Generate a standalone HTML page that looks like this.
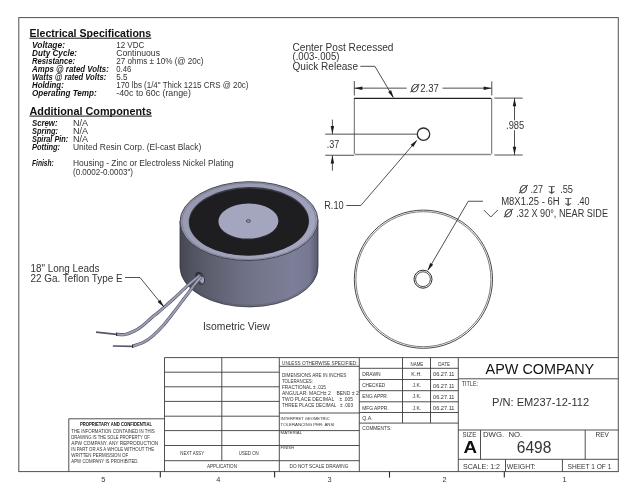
<!DOCTYPE html>
<html lang="en"><head><meta charset="utf-8"><title>APW Company - EM237-12-112 Drawing 6498</title>
<style>
html,body{margin:0;padding:0;background:#fff;}
body{width:640px;height:495px;overflow:hidden;}
svg{display:block;font-family:"Liberation Sans","DejaVu Sans",sans-serif;will-change:transform;}
</style></head><body>
<svg width="640" height="495" viewBox="0 0 640 495">
<defs>
<linearGradient id="body" x1="0" y1="0" x2="1" y2="0">
<stop offset="0" stop-color="#454752"/><stop offset="0.08" stop-color="#50525f"/><stop offset="0.2" stop-color="#5c5e6d"/><stop offset="0.4" stop-color="#6a6c7f"/>
<stop offset="0.6" stop-color="#75778e"/><stop offset="0.82" stop-color="#7d7f98"/><stop offset="0.94" stop-color="#767891"/><stop offset="1" stop-color="#585a70"/>
</linearGradient>
<linearGradient id="rim" x1="0" y1="0" x2="1" y2="1">
<stop offset="0" stop-color="#9496ad"/><stop offset="1" stop-color="#a7a9c2"/>
</linearGradient>
</defs>
<rect width="640" height="495" fill="#fff"/>

<rect x="18.8" y="17.6" width="599.5" height="454" fill="none" stroke="#505050" stroke-width="1"/>
<text x="29.5" y="36.8" font-size="10.7" textLength="121.7" lengthAdjust="spacingAndGlyphs" font-weight="bold" fill="#111" >Electrical Specifications</text>
<line x1="29.5" y1="38.2" x2="151.3" y2="38.2" stroke="#111" stroke-width="1.0"/>
<text x="32" y="48.3" font-size="8.5" textLength="33" lengthAdjust="spacingAndGlyphs" font-weight="bold" font-style="italic" fill="#111" >Voltage:</text>
<text x="32" y="56.05" font-size="8.5" textLength="45" lengthAdjust="spacingAndGlyphs" font-weight="bold" font-style="italic" fill="#111" >Duty Cycle:</text>
<text x="32" y="64.05" font-size="8.5" textLength="43" lengthAdjust="spacingAndGlyphs" font-weight="bold" font-style="italic" fill="#111" >Resistance:</text>
<text x="32" y="72.3" font-size="8.5" textLength="76.75" lengthAdjust="spacingAndGlyphs" font-weight="bold" font-style="italic" fill="#111" >Amps @ rated Volts:</text>
<text x="32" y="80.3" font-size="8.5" textLength="74.25" lengthAdjust="spacingAndGlyphs" font-weight="bold" font-style="italic" fill="#111" >Watts @ rated Volts:</text>
<text x="32" y="88.05" font-size="8.5" textLength="31.75" lengthAdjust="spacingAndGlyphs" font-weight="bold" font-style="italic" fill="#111" >Holding:</text>
<text x="32" y="96.05" font-size="8.5" textLength="64.75" lengthAdjust="spacingAndGlyphs" font-weight="bold" font-style="italic" fill="#111" >Operating Temp:</text>
<text x="116.25" y="48.35" font-size="8.4" textLength="28" lengthAdjust="spacingAndGlyphs" fill="#333333" >12 VDC</text>
<text x="116.25" y="56.1" font-size="8.4" textLength="43.75" lengthAdjust="spacingAndGlyphs" fill="#333333" >Continuous</text>
<text x="116.25" y="64.1" font-size="8.4" textLength="87.3" lengthAdjust="spacingAndGlyphs" fill="#333333" >27 ohms ± 10% (@ 20c)</text>
<text x="116.25" y="72.35" font-size="8.4" textLength="15" lengthAdjust="spacingAndGlyphs" fill="#333333" >0.46</text>
<text x="116.25" y="80.35" font-size="8.4" textLength="11.25" lengthAdjust="spacingAndGlyphs" fill="#333333" >5.5</text>
<text x="116.25" y="88.1" font-size="8.4" textLength="132.2" lengthAdjust="spacingAndGlyphs" fill="#333333" >170 lbs (1/4" Thick 1215 CRS @ 20c)</text>
<text x="116.25" y="96.1" font-size="8.4" textLength="74.7" lengthAdjust="spacingAndGlyphs" fill="#333333" >-40c to 60c (range)</text>
<text x="29.5" y="114.6" font-size="10.7" textLength="122.2" lengthAdjust="spacingAndGlyphs" font-weight="bold" fill="#111" >Additional Components</text>
<line x1="29.5" y1="116.1" x2="151.8" y2="116.1" stroke="#111" stroke-width="1.0"/>
<text x="32" y="126.3" font-size="8.5" textLength="25.5" lengthAdjust="spacingAndGlyphs" font-weight="bold" font-style="italic" fill="#111" >Screw:</text>
<text x="32" y="134.05" font-size="8.5" textLength="26" lengthAdjust="spacingAndGlyphs" font-weight="bold" font-style="italic" fill="#111" >Spring:</text>
<text x="32" y="142.05" font-size="8.5" textLength="36.25" lengthAdjust="spacingAndGlyphs" font-weight="bold" font-style="italic" fill="#111" >Spiral Pin:</text>
<text x="32" y="150.3" font-size="8.5" textLength="28" lengthAdjust="spacingAndGlyphs" font-weight="bold" font-style="italic" fill="#111" >Potting:</text>
<text x="32" y="166.05" font-size="8.5" textLength="21.75" lengthAdjust="spacingAndGlyphs" font-weight="bold" font-style="italic" fill="#111" >Finish:</text>
<text x="73" y="126.35" font-size="8.4" textLength="15" lengthAdjust="spacingAndGlyphs" fill="#333333" >N/A</text>
<text x="73" y="134.1" font-size="8.4" textLength="15" lengthAdjust="spacingAndGlyphs" fill="#333333" >N/A</text>
<text x="73" y="142.1" font-size="8.4" textLength="15" lengthAdjust="spacingAndGlyphs" fill="#333333" >N/A</text>
<text x="73" y="150.35" font-size="8.4" textLength="128.2" lengthAdjust="spacingAndGlyphs" fill="#333333" >United Resin Corp. (El-cast Black)</text>
<text x="73" y="166.1" font-size="8.4" textLength="160.7" lengthAdjust="spacingAndGlyphs" fill="#333333" >Housing - Zinc or Electroless Nickel Plating</text>
<text x="73" y="174.6" font-size="8.4" textLength="60" lengthAdjust="spacingAndGlyphs" fill="#333333" >(0.0002-0.0003")</text>
<text x="292.5" y="50.5" font-size="10.0" textLength="101" lengthAdjust="spacingAndGlyphs" fill="#333333" >Center Post Recessed</text>
<text x="292.5" y="60.0" font-size="10.0" textLength="47" lengthAdjust="spacingAndGlyphs" fill="#333333" >(.003-.005)</text>
<text x="292.5" y="69.5" font-size="10.0" textLength="65.5" lengthAdjust="spacingAndGlyphs" fill="#333333" >Quick Release</text>
<polyline points="360.3,66.3 374.9,66.3 393.3,97.4" fill="none" stroke="#3c3c3c" stroke-width="0.9"/>
<polygon points="393.70,98.00 388.12,92.00 391.13,90.22" fill="#1c1c1c"/>
<path d="M354.3,98 V153.6 L355.2,154.5 H490.8 L491.7,153.6 V98" fill="none" stroke="#666" stroke-width="1"/>
<line x1="355" y1="154.6" x2="491" y2="154.6" stroke="#8c8c8c" stroke-width="1.5"/>
<line x1="354.0" y1="98.4" x2="491.0" y2="98.4" stroke="#222" stroke-width="1.3"/>
<line x1="354.3" y1="81" x2="354.3" y2="95.6" stroke="#3c3c3c" stroke-width="0.9"/>
<line x1="491.8" y1="81.3" x2="491.8" y2="95.5" stroke="#3c3c3c" stroke-width="0.9"/>
<line x1="354.3" y1="88.15" x2="406.6" y2="88.15" stroke="#3c3c3c" stroke-width="0.9"/>
<line x1="442.5" y1="88.15" x2="491.7" y2="88.15" stroke="#3c3c3c" stroke-width="0.9"/>
<polygon points="354.40,88.15 362.40,86.40 362.40,89.90" fill="#1c1c1c"/>
<polygon points="491.60,88.15 483.60,89.90 483.60,86.40" fill="#1c1c1c"/>
<text x="409.8" y="92.2" font-size="10.5" font-family="DejaVu Sans Light, Liberation Sans, sans-serif" font-style="italic" fill="#333" stroke="#333" stroke-width="0.35">Ø</text>
<text x="420.2" y="91.9" font-size="10.4" textLength="18.6" lengthAdjust="spacingAndGlyphs" fill="#333333" >2.37</text>
<line x1="494.4" y1="98.1" x2="522.7" y2="98.1" stroke="#3c3c3c" stroke-width="0.9"/>
<line x1="494.4" y1="155" x2="522.7" y2="155" stroke="#3c3c3c" stroke-width="0.9"/>
<line x1="514.5" y1="98" x2="514.5" y2="120.3" stroke="#3c3c3c" stroke-width="0.9"/>
<line x1="514.5" y1="130.2" x2="514.5" y2="155" stroke="#3c3c3c" stroke-width="0.9"/>
<polygon points="514.50,98.20 516.25,106.20 512.75,106.20" fill="#1c1c1c"/>
<polygon points="514.50,154.80 512.75,146.80 516.25,146.80" fill="#1c1c1c"/>
<text x="506.1" y="128.8" font-size="10.4" textLength="18.1" lengthAdjust="spacingAndGlyphs" fill="#333333" >.985</text>
<circle cx="423.5" cy="134.2" r="6.2" fill="none" stroke="#2c2c2c" stroke-width="1.3"/>
<line x1="325.2" y1="134.15" x2="417.3" y2="134.15" stroke="#3c3c3c" stroke-width="0.9"/>
<line x1="325.2" y1="155.25" x2="354.3" y2="155.25" stroke="#3c3c3c" stroke-width="0.9"/>
<line x1="332.4" y1="119.6" x2="332.4" y2="134" stroke="#3c3c3c" stroke-width="0.9"/>
<line x1="332.4" y1="155.5" x2="332.4" y2="170.7" stroke="#3c3c3c" stroke-width="0.9"/>
<polygon points="332.40,134.00 330.65,126.00 334.15,126.00" fill="#1c1c1c"/>
<polygon points="332.40,155.40 334.15,163.40 330.65,163.40" fill="#1c1c1c"/>
<text x="326.7" y="147.75" font-size="10.4" textLength="12.5" lengthAdjust="spacingAndGlyphs" fill="#333333" >.37</text>
<text x="324.2" y="208.9" font-size="10.3" textLength="19.5" lengthAdjust="spacingAndGlyphs" fill="#333333" >R.10</text>
<polyline points="346.3,205.5 360.8,205.5 416.6,140.6" fill="none" stroke="#3c3c3c" stroke-width="0.9"/>
<polygon points="417.20,139.90 413.31,147.11 410.66,144.82" fill="#1c1c1c"/>
<circle cx="423.4" cy="279.2" r="69.1" fill="none" stroke="#333" stroke-width="0.9"/>
<circle cx="423.4" cy="279.2" r="67.5" fill="none" stroke="#444" stroke-width="0.7"/>
<circle cx="423.0" cy="279.2" r="9.0" fill="none" stroke="#2e2e2e" stroke-width="1.0"/>
<circle cx="423.0" cy="279.2" r="7.4" fill="none" stroke="#3c3c3c" stroke-width="0.9"/>
<polyline points="483,201.25 468.25,201.25 427.9,270.2" fill="none" stroke="#3c3c3c" stroke-width="0.9"/>
<polygon points="427.60,270.80 430.13,263.01 433.15,264.78" fill="#1c1c1c"/>
<text x="518.2" y="193.4" font-size="10.5" font-family="DejaVu Sans Light, Liberation Sans, sans-serif" font-style="italic" fill="#333" stroke="#333" stroke-width="0.35">Ø</text>
<text x="530.5" y="193.1" font-size="10.0" textLength="12.5" lengthAdjust="spacingAndGlyphs" fill="#333333" >.27</text>
<text transform="translate(545.6,194.4) scale(1.45,1)" font-size="10.4" font-family="DejaVu Sans, sans-serif" fill="#3a3a3a">↧</text>
<text x="560.2" y="193.1" font-size="10.0" textLength="12.8" lengthAdjust="spacingAndGlyphs" fill="#333333" >.55</text>
<text x="501.2" y="205.1" font-size="10.0" textLength="58.5" lengthAdjust="spacingAndGlyphs" fill="#333333" >M8X1.25 - 6H</text>
<text transform="translate(561.9,206.4) scale(1.45,1)" font-size="10.4" font-family="DejaVu Sans, sans-serif" fill="#3a3a3a">↧</text>
<text x="577" y="205.1" font-size="10.0" textLength="12.6" lengthAdjust="spacingAndGlyphs" fill="#333333" >.40</text>
<polyline points="483.8,210 490.8,217 497.8,210" fill="none" stroke="#3c3c3c" stroke-width="0.9"/>
<text x="503.2" y="217.4" font-size="10.5" font-family="DejaVu Sans Light, Liberation Sans, sans-serif" font-style="italic" fill="#333" stroke="#333" stroke-width="0.35">Ø</text>
<text x="516.3" y="217.1" font-size="10.0" textLength="91.7" lengthAdjust="spacingAndGlyphs" fill="#333333" >.32 X 90°, NEAR SIDE</text>
<path d="M180,221.2 V267.4 A69,40 0 0 0 318,266.4 V220.2 Z" fill="url(#body)" stroke="#33343e" stroke-width="0.8"/>
<path d="M180.6,265.9 A68.4,40 0 0 0 317.4,264.9" fill="none" stroke="#4a4c5c" stroke-width="0.6" opacity="0.7"/>
<ellipse cx="249" cy="221.1" rx="69" ry="39.45" transform="rotate(-0.8 249 221.2)" fill="url(#rim)" stroke="#3a3b46" stroke-width="0.9"/>
<ellipse cx="249" cy="221.2" rx="67.2" ry="38.3" transform="rotate(-0.8 249 221.2)" fill="none" stroke="#6c6e84" stroke-width="0.6"/>
<ellipse cx="248.9" cy="221.3" rx="60.2" ry="34.3" transform="rotate(-0.8 249 221.2)" fill="#3a3b46"/>
<ellipse cx="248.9" cy="222.0" rx="59.6" ry="33.4" transform="rotate(-0.8 249 221.2)" fill="#1e1e20"/>
<ellipse cx="248.4" cy="221.7" rx="30.2" ry="18" transform="rotate(-0.8 249 221.2)" fill="#2c2c34"/>
<ellipse cx="248.4" cy="221.1" rx="30" ry="17.5" transform="rotate(-0.8 249 221.2)" fill="#a4a6bf"/>
<ellipse cx="248.4" cy="221" rx="2.1" ry="1.5" fill="#8a8ca4" stroke="#3c3d48" stroke-width="0.7"/>
<ellipse cx="200" cy="278.2" rx="4.3" ry="6.9" transform="rotate(-25 200 278.2)" fill="#2e2f38"/>
<ellipse cx="200.5" cy="278.9" rx="3.2" ry="5.6" transform="rotate(-25 200.5 278.9)" fill="#50525f"/>
<path d="M199.6,279.2 L203.2,276.4 Q205.2,280.5 202.6,283.4 Q200.4,282.6 199.6,279.2 Z" fill="#a3a5bd"/>
<path d="M199.7,275.4 C198.29,276.55 194.07,279.83 191.25,282.3 C188.43,284.77 185.78,287.42 182.8,290.2 C179.83,292.98 176.53,296.13 173.4,299 C170.27,301.87 166.65,305.07 164,307.4 C161.35,309.73 159.62,311.23 157.5,313 C155.38,314.77 153.90,315.80 151.3,318 C148.70,320.20 144.72,324.03 141.9,326.2 C139.08,328.37 137.22,329.62 134.4,331 C131.58,332.38 127.98,333.95 125,334.5 C122.02,335.05 117.92,334.33 116.5,334.3" fill="none" stroke="#50525f" stroke-width="3.2" stroke-linecap="butt"/>
<path d="M199.7,275.4 C198.29,276.55 194.07,279.83 191.25,282.3 C188.43,284.77 185.78,287.42 182.8,290.2 C179.83,292.98 176.53,296.13 173.4,299 C170.27,301.87 166.65,305.07 164,307.4 C161.35,309.73 159.62,311.23 157.5,313 C155.38,314.77 153.90,315.80 151.3,318 C148.70,320.20 144.72,324.03 141.9,326.2 C139.08,328.37 137.22,329.62 134.4,331 C131.58,332.38 127.98,333.95 125,334.5 C122.02,335.05 117.92,334.33 116.5,334.3" fill="none" stroke="#9c9eb6" stroke-width="2.0" stroke-linecap="butt"/>
<path d="M201.2,276.8 C200.17,278.00 196.97,281.53 195,284 C193.03,286.47 191.28,289.10 189.4,291.6 C187.53,294.10 185.63,296.50 183.75,299 C181.87,301.50 179.89,304.22 178.1,306.6 C176.31,308.98 175.60,310.03 173.0,313.3 C170.40,316.57 165.82,322.53 162.5,326.25 C159.18,329.97 156.22,332.94 153.1,335.6 C149.97,338.26 147.18,340.42 143.75,342.2 C140.32,343.98 134.38,345.62 132.5,346.3" fill="none" stroke="#50525f" stroke-width="3.2" stroke-linecap="butt"/>
<path d="M201.2,276.8 C200.17,278.00 196.97,281.53 195,284 C193.03,286.47 191.28,289.10 189.4,291.6 C187.53,294.10 185.63,296.50 183.75,299 C181.87,301.50 179.89,304.22 178.1,306.6 C176.31,308.98 175.60,310.03 173.0,313.3 C170.40,316.57 165.82,322.53 162.5,326.25 C159.18,329.97 156.22,332.94 153.1,335.6 C149.97,338.26 147.18,340.42 143.75,342.2 C140.32,343.98 134.38,345.62 132.5,346.3" fill="none" stroke="#9c9eb6" stroke-width="2.0" stroke-linecap="butt"/>
<path d="M116.8,334.3 L96,332.1" fill="none" stroke="#55576a" stroke-width="1.7"/>
<path d="M132.8,346.3 L112.8,346" fill="none" stroke="#55576a" stroke-width="1.7"/>
<line x1="116.6" y1="332.6" x2="116.6" y2="336" stroke="#222" stroke-width="0.9"/>
<line x1="132.6" y1="344.6" x2="132.6" y2="348" stroke="#222" stroke-width="0.9"/>
<text x="30.5" y="271.6" font-size="10.0" textLength="69" lengthAdjust="spacingAndGlyphs" fill="#333333" >18" Long Leads</text>
<text x="30.5" y="281.6" font-size="10.0" textLength="92" lengthAdjust="spacingAndGlyphs" fill="#333333" >22 Ga. Teflon Type E</text>
<polyline points="125,277.5 140,277.5 163.6,306.6" fill="none" stroke="#3c3c3c" stroke-width="0.9"/>
<polygon points="164.00,307.10 157.60,302.00 160.31,299.79" fill="#1c1c1c"/>
<text x="203" y="329.6" font-size="10.0" textLength="67" lengthAdjust="spacingAndGlyphs" fill="#333333" >Isometric View</text>
<line x1="164.5" y1="357.6" x2="279.3" y2="357.6" stroke="#3c3c3c" stroke-width="0.9"/>
<line x1="164.5" y1="372.2" x2="279.3" y2="372.2" stroke="#3c3c3c" stroke-width="0.9"/>
<line x1="164.5" y1="386.8" x2="279.3" y2="386.8" stroke="#3c3c3c" stroke-width="0.9"/>
<line x1="164.5" y1="401.4" x2="279.3" y2="401.4" stroke="#3c3c3c" stroke-width="0.9"/>
<line x1="164.5" y1="416.2" x2="279.3" y2="416.2" stroke="#3c3c3c" stroke-width="0.9"/>
<line x1="164.5" y1="430.6" x2="279.3" y2="430.6" stroke="#3c3c3c" stroke-width="0.9"/>
<line x1="164.5" y1="445.5" x2="279.3" y2="445.5" stroke="#3c3c3c" stroke-width="0.9"/>
<line x1="164.5" y1="460.7" x2="279.3" y2="460.7" stroke="#3c3c3c" stroke-width="0.9"/>
<line x1="164.5" y1="357.6" x2="164.5" y2="471.6" stroke="#3c3c3c" stroke-width="0.9"/>
<line x1="221.8" y1="357.6" x2="221.8" y2="460.7" stroke="#3c3c3c" stroke-width="0.9"/>
<line x1="279.3" y1="357.6" x2="279.3" y2="471.6" stroke="#3c3c3c" stroke-width="0.9"/>
<line x1="68.8" y1="418.8" x2="164.5" y2="418.8" stroke="#3c3c3c" stroke-width="0.9"/>
<line x1="68.8" y1="418.8" x2="68.8" y2="471.6" stroke="#3c3c3c" stroke-width="0.9"/>
<text x="80" y="425.5" font-size="4.6" textLength="72" lengthAdjust="spacingAndGlyphs" font-weight="bold" fill="#111" >PROPRIETARY AND CONFIDENTIAL</text>
<text x="71.25" y="433.25" font-size="4.6" textLength="83.5" lengthAdjust="spacingAndGlyphs" fill="#333333" >THE INFORMATION CONTAINED IN THIS</text>
<text x="71.25" y="439.2" font-size="4.6" textLength="78.5" lengthAdjust="spacingAndGlyphs" fill="#333333" >DRAWING IS THE SOLE PROPERTY OF</text>
<text x="71.25" y="445.2" font-size="4.6" textLength="87" lengthAdjust="spacingAndGlyphs" fill="#333333" >APW COMPANY.  ANY  REPRODUCTION</text>
<text x="71.25" y="451.1" font-size="4.6" textLength="83" lengthAdjust="spacingAndGlyphs" fill="#333333" >IN PART OR AS A WHOLE WITHOUT THE</text>
<text x="71.25" y="457" font-size="4.6" textLength="57" lengthAdjust="spacingAndGlyphs" fill="#333333" >WRITTEN PERMISSION OF</text>
<text x="71.25" y="462.8" font-size="4.6" textLength="67.5" lengthAdjust="spacingAndGlyphs" fill="#333333" >APW COMPANY IS PROHIBITED.</text>
<text x="180.3" y="454.5" font-size="4.6" textLength="23.8" lengthAdjust="spacingAndGlyphs" fill="#333333" >NEXT ASSY</text>
<text x="238.8" y="454.5" font-size="4.6" textLength="20" lengthAdjust="spacingAndGlyphs" fill="#333333" >USED ON</text>
<text x="207" y="468.1" font-size="4.6" textLength="30" lengthAdjust="spacingAndGlyphs" fill="#333333" >APPLICATION</text>
<line x1="279.3" y1="357.6" x2="359.3" y2="357.6" stroke="#3c3c3c" stroke-width="0.9"/>
<line x1="279.3" y1="366.3" x2="359.3" y2="366.3" stroke="#3c3c3c" stroke-width="0.9"/>
<line x1="279.3" y1="413" x2="359.3" y2="413" stroke="#3c3c3c" stroke-width="0.9"/>
<line x1="279.3" y1="430.6" x2="359.3" y2="430.6" stroke="#3c3c3c" stroke-width="0.9"/>
<line x1="279.3" y1="445.5" x2="359.3" y2="445.5" stroke="#3c3c3c" stroke-width="0.9"/>
<line x1="279.3" y1="460.7" x2="359.3" y2="460.7" stroke="#3c3c3c" stroke-width="0.9"/>
<line x1="359.3" y1="357.6" x2="359.3" y2="471.6" stroke="#3c3c3c" stroke-width="0.9"/>
<text x="282" y="364.5" font-size="4.7" textLength="75.5" lengthAdjust="spacingAndGlyphs" fill="#333333" >UNLESS OTHERWISE SPECIFIED:</text>
<text x="282" y="377" font-size="4.7" textLength="64.3" lengthAdjust="spacingAndGlyphs" fill="#333333" xml:space="preserve">DIMENSIONS ARE IN INCHES</text>
<text x="282" y="383" font-size="4.7" textLength="31" lengthAdjust="spacingAndGlyphs" fill="#333333" xml:space="preserve">TOLERANCES:</text>
<text x="282" y="389.2" font-size="4.7" textLength="44" lengthAdjust="spacingAndGlyphs" fill="#333333" xml:space="preserve">FRACTIONAL ± .015</text>
<text x="282" y="395" font-size="4.7" textLength="76.7" lengthAdjust="spacingAndGlyphs" fill="#333333" xml:space="preserve">ANGULAR: MACH± 2    BEND ± 2</text>
<text x="282" y="400.9" font-size="4.7" textLength="71" lengthAdjust="spacingAndGlyphs" fill="#333333" xml:space="preserve">TWO PLACE DECIMAL    ± .005</text>
<text x="282" y="407" font-size="4.7" textLength="71" lengthAdjust="spacingAndGlyphs" fill="#333333" xml:space="preserve">THREE PLACE DECIMAL   ± .003</text>
<text x="280.6" y="420.25" font-size="4.2" textLength="49" lengthAdjust="spacingAndGlyphs" fill="#333333" >INTERPRET GEOMETRIC</text>
<text x="280.6" y="426.25" font-size="4.2" textLength="54" lengthAdjust="spacingAndGlyphs" fill="#333333" >TOLERANCING PER: ANSI</text>
<text x="280.6" y="434.2" font-size="3.8" textLength="21.5" lengthAdjust="spacingAndGlyphs" fill="#333333" >MATERIAL</text>
<text x="280.6" y="449.4" font-size="3.8" textLength="13.5" lengthAdjust="spacingAndGlyphs" fill="#333333" >FINISH</text>
<text x="289.6" y="468.3" font-size="4.6" textLength="58.7" lengthAdjust="spacingAndGlyphs" fill="#333333" >DO NOT SCALE DRAWING</text>
<line x1="359.3" y1="357.6" x2="458.3" y2="357.6" stroke="#3c3c3c" stroke-width="0.9"/>
<line x1="359.3" y1="368.3" x2="458.3" y2="368.3" stroke="#3c3c3c" stroke-width="0.9"/>
<line x1="359.3" y1="379.5" x2="458.3" y2="379.5" stroke="#3c3c3c" stroke-width="0.9"/>
<line x1="359.3" y1="390.7" x2="458.3" y2="390.7" stroke="#3c3c3c" stroke-width="0.9"/>
<line x1="359.3" y1="401.8" x2="458.3" y2="401.8" stroke="#3c3c3c" stroke-width="0.9"/>
<line x1="359.3" y1="412.5" x2="458.3" y2="412.5" stroke="#3c3c3c" stroke-width="0.9"/>
<line x1="359.3" y1="423.1" x2="458.3" y2="423.1" stroke="#3c3c3c" stroke-width="0.9"/>
<line x1="402.5" y1="357.6" x2="402.5" y2="423.1" stroke="#3c3c3c" stroke-width="0.9"/>
<line x1="430.5" y1="357.6" x2="430.5" y2="423.1" stroke="#3c3c3c" stroke-width="0.9"/>
<line x1="458.3" y1="357.6" x2="458.3" y2="471.6" stroke="#3c3c3c" stroke-width="0.9"/>
<text x="362.2" y="375.8" font-size="4.7" textLength="18.5" lengthAdjust="spacingAndGlyphs" fill="#333333" >DRAWN</text>
<text x="362.2" y="387.4" font-size="4.7" textLength="23" lengthAdjust="spacingAndGlyphs" fill="#333333" >CHECKED</text>
<text x="362.2" y="398.3" font-size="4.7" textLength="26" lengthAdjust="spacingAndGlyphs" fill="#333333" >ENG APPR.</text>
<text x="362.2" y="409.5" font-size="4.7" textLength="26.5" lengthAdjust="spacingAndGlyphs" fill="#333333" >MFG APPR.</text>
<text x="362.2" y="419.5" font-size="4.7" textLength="10.5" lengthAdjust="spacingAndGlyphs" fill="#333333" >Q.A.</text>
<text x="362.2" y="430" font-size="4.7" textLength="29.3" lengthAdjust="spacingAndGlyphs" fill="#333333" >COMMENTS:</text>
<text x="410.5" y="365.8" font-size="4.6" textLength="12.8" lengthAdjust="spacingAndGlyphs" fill="#333333" >NAME</text>
<text x="438.3" y="365.8" font-size="4.6" textLength="11.7" lengthAdjust="spacingAndGlyphs" fill="#333333" >DATE</text>
<text x="411.3" y="375.8" font-size="4.6" textLength="10.5" lengthAdjust="spacingAndGlyphs" fill="#333333" >K.H.</text>
<text x="412.5" y="387.4" font-size="4.6" textLength="8.8" lengthAdjust="spacingAndGlyphs" fill="#333333" >J.K.</text>
<text x="412.5" y="398.3" font-size="4.6" textLength="8.8" lengthAdjust="spacingAndGlyphs" fill="#333333" >J.K.</text>
<text x="412.5" y="409.5" font-size="4.6" textLength="8.8" lengthAdjust="spacingAndGlyphs" fill="#333333" >J.K.</text>
<text x="433" y="376.2" font-size="4.6" textLength="21.5" lengthAdjust="spacingAndGlyphs" fill="#333333" >06.27.11</text>
<text x="433" y="387.6" font-size="4.6" textLength="21.5" lengthAdjust="spacingAndGlyphs" fill="#333333" >06.27.11</text>
<text x="433" y="398.5" font-size="4.6" textLength="21.5" lengthAdjust="spacingAndGlyphs" fill="#333333" >06.27.11</text>
<text x="433" y="409.7" font-size="4.6" textLength="21.5" lengthAdjust="spacingAndGlyphs" fill="#333333" >06.27.11</text>
<line x1="458.3" y1="357.6" x2="618.3" y2="357.6" stroke="#3c3c3c" stroke-width="0.9"/>
<line x1="458.3" y1="378.8" x2="618.3" y2="378.8" stroke="#3c3c3c" stroke-width="0.9"/>
<line x1="458.3" y1="430" x2="618.3" y2="430" stroke="#3c3c3c" stroke-width="0.9"/>
<line x1="458.3" y1="459.3" x2="618.3" y2="459.3" stroke="#3c3c3c" stroke-width="0.9"/>
<line x1="480.5" y1="430" x2="480.5" y2="459.3" stroke="#3c3c3c" stroke-width="0.9"/>
<line x1="585.2" y1="430" x2="585.2" y2="459.3" stroke="#3c3c3c" stroke-width="0.9"/>
<line x1="505.5" y1="459.3" x2="505.5" y2="471.6" stroke="#3c3c3c" stroke-width="0.9"/>
<line x1="562.4" y1="459.3" x2="562.4" y2="471.6" stroke="#3c3c3c" stroke-width="0.9"/>
<text x="485.6" y="374.3" font-size="14" textLength="108.6" lengthAdjust="spacingAndGlyphs" fill="#111" >APW COMPANY</text>
<text x="461.8" y="386.3" font-size="7" textLength="16.2" lengthAdjust="spacingAndGlyphs" fill="#333333" >TITLE:</text>
<text x="492" y="406.3" font-size="10.4" textLength="97.2" lengthAdjust="spacingAndGlyphs" fill="#333333" >P/N: EM237-12-112</text>
<text x="462.5" y="437.1" font-size="7" textLength="13.8" lengthAdjust="spacingAndGlyphs" fill="#333333" >SIZE</text>
<text x="483" y="437.1" font-size="7" textLength="39.2" lengthAdjust="spacingAndGlyphs" fill="#333333" xml:space="preserve">DWG.  NO.</text>
<text x="595.5" y="437.4" font-size="7" textLength="13.3" lengthAdjust="spacingAndGlyphs" fill="#333333" >REV</text>
<text x="463.4" y="453.3" font-size="17" textLength="13.6" lengthAdjust="spacingAndGlyphs" font-weight="bold" fill="#111" >A</text>
<text x="516.8" y="452.6" font-size="15.6" textLength="34.5" lengthAdjust="spacingAndGlyphs" fill="#333333" >6498</text>
<text x="463" y="468.8" font-size="7.2" textLength="37" lengthAdjust="spacingAndGlyphs" fill="#333333" >SCALE: 1:2</text>
<text x="506.8" y="468.8" font-size="7.2" textLength="28.7" lengthAdjust="spacingAndGlyphs" fill="#333333" >WEIGHT:</text>
<text x="567.5" y="468.8" font-size="7.2" textLength="43.8" lengthAdjust="spacingAndGlyphs" fill="#333333" >SHEET 1 OF 1</text>
<text x="103.2" y="482.1" font-size="7.4" text-anchor="middle" fill="#333333" >5</text>
<text x="218.2" y="482.1" font-size="7.4" text-anchor="middle" fill="#333333" >4</text>
<text x="329.5" y="482.1" font-size="7.4" text-anchor="middle" fill="#333333" >3</text>
<text x="444.5" y="482.1" font-size="7.4" text-anchor="middle" fill="#333333" >2</text>
<text x="564.6" y="482.1" font-size="7.4" text-anchor="middle" fill="#333333" >1</text>
<line x1="160.3" y1="471.6" x2="160.3" y2="477.6" stroke="#2a2a2a" stroke-width="1.1"/>
<line x1="274.6" y1="471.6" x2="274.6" y2="477.6" stroke="#2a2a2a" stroke-width="1.1"/>
<line x1="389.5" y1="471.6" x2="389.5" y2="477.6" stroke="#2a2a2a" stroke-width="1.1"/>
<line x1="504.3" y1="471.6" x2="504.3" y2="477.6" stroke="#2a2a2a" stroke-width="1.1"/>
</svg></body></html>
